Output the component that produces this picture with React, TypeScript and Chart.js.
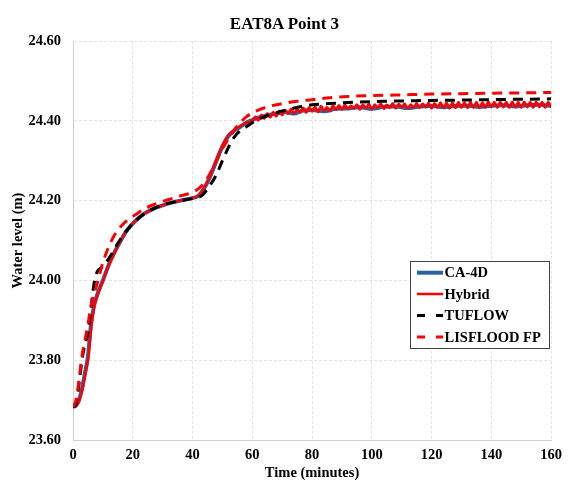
import { useEffect, useRef } from "react";
import { Chart, registerables } from "chart.js";

Chart.register(...registerables);

const FONT = '"Liberation Serif", "Times New Roman", Times, serif';

const chartTitle = "EAT8A Point 3";
const xAxisTitle = "Time (minutes)";
const yAxisTitle = "Water level (m)";
const seriesNames = ["CA-4D", "Hybrid", "TUFLOW", "LISFLOOD FP"];
const xTicks = [0, 20, 40, 60, 80, 100, 120, 140, 160];
const yTicks = [23.6, 23.8, 24.0, 24.2, 24.4, 24.6];

const ca4dTime = [0, 1, 2, 3, 4, 5, 6, 7, 8, 10, 12, 14, 16, 18, 21, 24, 27, 30, 33, 36, 39, 42, 44, 46, 48, 50, 52, 54, 56, 58, 60, 62, 65, 68, 71, 74, 77, 80, 84, 88, 92, 96, 100, 104, 108, 112, 116, 120, 124, 128, 132, 136, 140, 144, 148, 152, 156, 160];
const ca4dLevel = [23.683, 23.686, 23.7, 23.728, 23.768, 23.81, 23.888, 23.935, 23.962, 24.0, 24.04, 24.072, 24.1, 24.125, 24.15, 24.168, 24.18, 24.188, 24.195, 24.2, 24.205, 24.212, 24.232, 24.262, 24.3, 24.335, 24.362, 24.375, 24.385, 24.395, 24.402, 24.408, 24.414, 24.418, 24.422, 24.418, 24.426, 24.427, 24.424, 24.43, 24.431, 24.434, 24.43, 24.435, 24.436, 24.432, 24.436, 24.437, 24.434, 24.437, 24.438, 24.435, 24.438, 24.439, 24.436, 24.439, 24.44, 24.437];

const hybridTime = [0, 1, 2, 3, 4, 5, 6, 7, 8, 10, 12, 14, 16, 18, 21, 24, 27, 30, 33, 36, 39, 42, 44, 46, 48, 50, 52, 54, 56, 58,
  60, 61, 62, 63, 64, 65, 66, 67, 68, 69, 70, 71, 72, 73, 74, 75, 76, 77, 78, 79,
  80, 81, 82, 83, 84, 85, 86, 87, 88, 89, 90, 91, 92, 93, 94, 95, 96, 97, 98, 99,
  100, 101, 102, 103, 104, 105, 106, 107, 108, 109, 110, 111, 112, 113, 114, 115, 116, 117, 118, 119,
  120, 121, 122, 123, 124, 125, 126, 127, 128, 129, 130, 131, 132, 133, 134, 135, 136, 137, 138, 139,
  140, 141, 142, 143, 144, 145, 146, 147, 148, 149, 150, 151, 152, 153, 154, 155, 156, 157, 158, 159, 160];
const hybridLevel = [23.683, 23.685, 23.697, 23.722, 23.76, 23.8, 23.875, 23.93, 23.958, 23.998, 24.038, 24.07, 24.1, 24.125, 24.15, 24.168, 24.18, 24.188, 24.195, 24.2, 24.205, 24.213, 24.234, 24.265, 24.303, 24.338, 24.364, 24.377, 24.387, 24.395,
  24.4, 24.41, 24.401, 24.415, 24.405, 24.419, 24.408, 24.422, 24.411, 24.425, 24.414, 24.427, 24.417, 24.43, 24.418, 24.429, 24.421, 24.433, 24.42, 24.434,
  24.423, 24.435, 24.422, 24.437, 24.425, 24.434, 24.424, 24.439, 24.427, 24.439, 24.428, 24.44, 24.43, 24.438, 24.431, 24.441, 24.428, 24.44, 24.432, 24.442,
  24.429, 24.441, 24.433, 24.443, 24.43, 24.44, 24.433, 24.444, 24.431, 24.442, 24.434, 24.443, 24.43, 24.441, 24.433, 24.444, 24.432, 24.443, 24.434, 24.445,
  24.431, 24.444, 24.433, 24.446, 24.432, 24.445, 24.431, 24.446, 24.432, 24.447, 24.433, 24.446, 24.432, 24.447, 24.433, 24.447, 24.432, 24.446, 24.433, 24.448,
  24.434, 24.447, 24.433, 24.448, 24.434, 24.447, 24.433, 24.448, 24.434, 24.447, 24.433, 24.448, 24.434, 24.447, 24.433, 24.448, 24.434, 24.447, 24.433, 24.447, 24.434];

const tuflowTime = [0, 1, 2, 3, 4, 5, 6, 7, 8, 10, 12, 14, 16, 18, 21, 24, 27, 30, 33, 36, 40, 43, 46, 48, 50, 52, 54, 56, 58, 61, 64, 68, 72, 76, 80, 88, 96, 104, 112, 120, 130, 140, 150, 160];
const tuflowLevel = [23.683, 23.69, 23.74, 23.8, 23.84, 23.87, 23.93, 23.99, 24.02, 24.035, 24.055, 24.08, 24.105, 24.125, 24.15, 24.168, 24.18, 24.19, 24.195, 24.2, 24.205, 24.212, 24.24, 24.265, 24.3, 24.333, 24.36, 24.375, 24.385, 24.4, 24.41, 24.42, 24.428, 24.435, 24.44, 24.444, 24.447, 24.449, 24.45, 24.451, 24.452, 24.453, 24.454, 24.455];

const lisfloodTime = [0, 1, 2, 3, 4, 5, 6, 7, 8, 10, 12, 14, 16, 18, 21, 24, 27, 30, 33, 36, 39, 42, 44, 46, 48, 50, 52, 54, 56, 58, 60, 63, 66, 70, 75, 80, 86, 92, 100, 110, 120, 130, 140, 150, 160];
const lisfloodLevel = [23.683, 23.7, 23.75, 23.81, 23.85, 23.89, 23.935, 23.965, 23.99, 24.045, 24.085, 24.115, 24.135, 24.15, 24.165, 24.18, 24.19, 24.198, 24.205, 24.212, 24.218, 24.23, 24.245, 24.27, 24.3, 24.33, 24.355, 24.378, 24.396, 24.41, 24.42, 24.43, 24.437, 24.443, 24.449, 24.453, 24.458, 24.461, 24.463, 24.465, 24.467, 24.468, 24.469, 24.47, 24.471];

const BLUE = "#2a62a8";
const RED = "#ff0000";
const BLACK = "#000000";

function pairs(xs: number[], ys: number[]) {
  return xs.map((x, i) => ({ x, y: ys[i] }));
}

const boxLegend = {
  id: "boxLegend",
  afterDraw(chart: any) {
    const { ctx } = chart;
    const bx = 410.5, by = 261.5, bw = 139, bh = 87;
    ctx.save();
    ctx.fillStyle = "#ffffff";
    ctx.fillRect(bx, by, bw, bh);
    ctx.strokeStyle = "#404040";
    ctx.lineWidth = 1;
    ctx.strokeRect(bx, by, bw, bh);
    const rows = [272.7, 294, 315.5, 337];
    chart.data.datasets.forEach((ds: any, i: number) => {
      const y = rows[i];
      ctx.beginPath();
      ctx.strokeStyle = ds.borderColor;
      ctx.lineWidth = ds.legendWidth;
      ctx.setLineDash(ds.borderDash ? [8, 11] : []);
      ctx.moveTo(417, y);
      ctx.lineTo(443, y);
      ctx.stroke();
      ctx.setLineDash([]);
      ctx.fillStyle = "#000";
      ctx.font = `bold 14.5px ${FONT}`;
      ctx.textBaseline = "middle";
      ctx.textAlign = "left";
      ctx.fillText(ds.label, 444.5, y + 1);
    });
    ctx.restore();
  },
};

export default function App() {
  const ref = useRef<HTMLCanvasElement | null>(null);
  useEffect(() => {
    if (!ref.current) return;
    const gridColor = "#e3e3e3";
    const chart = new Chart(ref.current, {
      type: "line",
      data: {
        datasets: [
          { label: seriesNames[0], data: pairs(ca4dTime, ca4dLevel), borderColor: BLUE, borderWidth: 4, legendWidth: 4, pointRadius: 0, cubicInterpolationMode: "monotone", order: 4 } as any,
          { label: seriesNames[1], data: pairs(hybridTime, hybridLevel), borderColor: RED, borderWidth: 2.5, legendWidth: 2.5, pointRadius: 0, cubicInterpolationMode: "monotone", order: 3 } as any,
          { label: seriesNames[2], data: pairs(tuflowTime, tuflowLevel), borderColor: BLACK, borderWidth: 3, legendWidth: 3, borderDash: [10, 7], pointRadius: 0, cubicInterpolationMode: "monotone", order: 2 } as any,
          { label: seriesNames[3], data: pairs(lisfloodTime, lisfloodLevel), borderColor: RED, borderWidth: 3, legendWidth: 3, borderDash: [10, 7], pointRadius: 0, cubicInterpolationMode: "monotone", order: 1 } as any,
        ],
      },
      options: {
        animation: false,
        responsive: false,
        events: [],
        layout: { padding: { left: 0, top: 41, right: 11, bottom: 0 } },
        plugins: { legend: { display: false }, tooltip: { enabled: false }, title: { display: false } },
        scales: {
          x: {
            type: "linear",
            min: 0,
            max: 160,
            afterBuildTicks: (s: any) => { s.ticks = xTicks.map((v) => ({ value: v })); },
            afterFit: (s: any) => { s.height = 48; },
            ticks: { color: "#000", font: { family: FONT, size: 14.5, weight: "bold" }, padding: 7, maxRotation: 0, autoSkip: false },
            grid: { color: gridColor, drawTicks: false, lineWidth: 1 },
            border: { display: true, color: "#cfcfcf", width: 1, dash: [3, 2] },
            title: { display: true, text: xAxisTitle, color: "#000", font: { family: FONT, size: 14.5, weight: "bold" }, padding: { top: 0, bottom: 6 } },
          },
          y: {
            type: "linear",
            min: 23.6,
            max: 24.6,
            afterBuildTicks: (s: any) => { s.ticks = yTicks.map((v) => ({ value: v })); },
            afterFit: (s: any) => { s.width = 73; },
            ticks: { color: "#000", font: { family: FONT, size: 14.5, weight: "bold" }, padding: 12, callback: (v: any) => Number(v).toFixed(2) },
            grid: { color: gridColor, drawTicks: false, lineWidth: 1 },
            border: { display: true, color: "#cfcfcf", width: 1, dash: [3, 2] },
            title: { display: true, text: yAxisTitle, color: "#000", font: { family: FONT, size: 14.5, weight: "bold" }, padding: { top: 10, bottom: 0 } },
          },
        },
      } as any,
      plugins: [boxLegend],
    });
    return () => chart.destroy();
  }, []);

  return (
    <div style={{ position: "absolute", left: 0, top: 0, width: 569, height: 488, background: "#fff" }}>
      <div style={{ position: "absolute", left: 0, top: 15, width: 569, textAlign: "center", fontFamily: FONT, fontWeight: "bold", fontSize: 17, lineHeight: "17px", color: "#000" }}>
        {chartTitle}
      </div>
      <canvas ref={ref} width={569} height={488} style={{ display: "block", width: 569, height: 488 }} />
    </div>
  );
}
